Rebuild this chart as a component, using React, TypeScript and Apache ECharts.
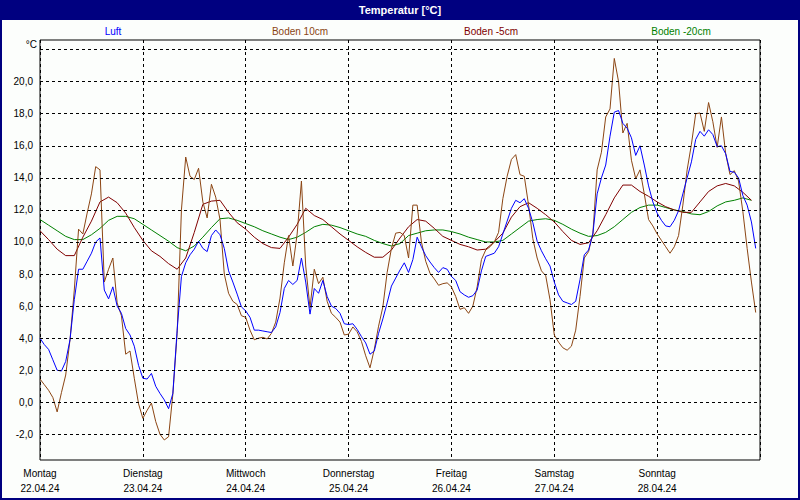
import React, { useEffect, useRef } from "react";
import * as echarts from "echarts";

// ---- data ----
const dayNames = ["Montag", "Dienstag", "Mittwoch", "Donnerstag", "Freitag", "Samstag", "Sonntag"];
const dayDates = ["22.04.24", "23.04.24", "24.04.24", "25.04.24", "26.04.24", "27.04.24", "28.04.24"];
const yGridValues = [-2, 0, 2, 4, 6, 8, 10, 12, 14, 16, 18, 20, 22];
const yLabelValues = [-2, 0, 2, 4, 6, 8, 10, 12, 14, 16, 18, 20];
const seriesNames = ["Luft", "Boden 10cm", "Boden -5cm", "Boden -20cm"];
const seriesColors = ["#0000ff", "#8b4513", "#800000", "#008000"];

// Luft, hourly from Monday 00:00
const luft = [
  4.0, 3.6, 3.3, 2.65, 2.0, 1.95, 2.55, 3.9, 6.4, 8.3,
  8.3, 8.8, 9.3, 10.0, 10.25, 7.0, 6.45, 7.2, 6.0, 5.55,
  4.6, 4.2, 3.5, 2.3, 1.5, 1.45, 1.8, 1.0, 0.55, 0.15,
  -0.4, 0.55, 4.5, 7.85, 8.7, 9.2, 9.55, 10.05, 9.6, 9.4,
  10.4, 10.75, 10.45, 9.6, 8.2, 7.5, 6.75, 5.95, 5.7, 5.3,
  4.5, 4.5, 4.45, 4.4, 4.35, 4.7, 5.6, 7.1, 7.6, 7.35,
  7.6, 9.0, 7.5, 5.5, 7.1, 6.8, 7.6, 6.6, 6.0, 5.85,
  5.55, 4.9, 4.85, 4.9, 4.55, 4.1, 3.7, 3.0, 3.2, 4.3,
  5.2, 6.2, 7.25, 7.75, 8.25, 8.7, 8.1, 8.9, 10.3, 9.7,
  9.15, 8.75, 8.4, 8.1, 8.4, 8.3, 7.85, 7.6, 6.9, 6.7,
  6.55, 6.65, 7.0, 8.2, 9.1, 9.2, 9.3, 9.7, 10.5, 11.3,
  12.1, 12.6, 12.45, 12.7, 12.1, 11.2, 10.05, 9.45, 8.95, 8.5,
  7.5, 6.7, 6.3, 6.2, 6.1, 6.3, 7.65, 9.2, 9.5, 10.5,
  13.0, 14.0, 14.8, 16.6, 18.1, 18.2, 17.4, 17.1, 16.5, 15.4,
  16.0, 14.8, 13.5, 12.5, 11.8, 11.35, 11.0, 10.95, 11.35, 11.95,
  13.0, 14.0, 15.0, 16.4, 16.9, 16.6, 17.0, 16.7, 15.95, 16.0,
  15.5, 14.4, 14.35, 14.0, 12.9, 12.3, 11.25, 9.6,
];

// Boden 10cm, hourly
const boden10 = [
  1.45, 1.1, 0.75, 0.3, -0.6, 0.6, 1.7, 3.9, 7.0, 10.8,
  10.5, 11.8, 13.0, 14.7, 14.5, 7.5, 8.3, 9.0, 6.2, 5.4,
  3.0, 3.2, 1.5, -0.1, -1.0, -0.5, -0.05, -1.2, -2.0, -2.35,
  -2.15, 0.5, 4.3, 12.0, 15.3, 14.1, 13.9, 14.6, 12.5, 11.5,
  13.6, 12.8, 11.4, 8.0, 6.8, 6.3, 6.1, 5.4, 5.3, 4.5,
  3.9, 4.0, 4.05, 3.95, 4.3, 5.0, 6.5, 8.7, 10.4, 8.5,
  10.5, 13.8, 8.5, 5.9, 8.3, 7.4, 7.8, 6.3, 5.55, 5.3,
  5.0, 4.2, 4.25, 4.7, 4.4, 3.8, 2.9, 2.15, 3.3, 4.75,
  5.95, 8.1, 9.6, 10.55, 10.6, 10.4, 9.0, 12.3, 12.3, 10.0,
  8.8, 8.05, 7.7, 7.3, 7.4, 7.45, 7.2, 6.6, 5.8, 5.9,
  5.55, 6.0, 7.2, 8.9, 9.5, 9.7, 10.0, 10.6, 12.7, 14.1,
  15.15, 15.45, 14.2, 14.1, 12.3, 10.2, 9.0, 8.2, 7.9, 6.4,
  4.2, 3.75, 3.4, 3.25, 3.5, 4.5, 6.6, 9.0, 9.4, 10.5,
  14.5, 15.6, 17.8, 18.3, 21.45, 20.0, 16.8, 17.4, 15.1, 13.95,
  14.5, 13.0, 11.4, 11.0, 10.5, 10.1, 9.7, 9.3, 9.7, 10.4,
  12.3, 14.5, 16.1, 18.0, 18.05, 16.9, 18.7, 17.5, 15.9, 17.8,
  15.5, 14.2, 14.45, 13.8, 11.9, 9.6, 7.5, 5.6,
];

// Boden -5cm, every 2 hours
const boden5 = [
  10.7, 10.15, 9.55, 9.15, 9.15, 10.3, 11.3, 12.5, 12.8, 12.45,
  11.8, 10.9, 10.1, 9.45, 9.1, 8.65, 8.3, 9.0, 10.6, 12.35,
  12.55, 12.6, 11.85, 11.2, 10.8, 10.3, 9.9, 9.65, 9.6, 10.3,
  11.1, 12.1, 11.65, 11.4, 10.95, 10.5, 10.1, 9.7, 9.35, 9.05,
  9.05, 9.5, 10.25, 10.95, 11.4, 11.3, 10.85, 10.35, 10.1, 9.85,
  9.7, 9.5, 9.55, 10.0, 10.55, 11.55, 12.2, 12.45, 12.1, 11.7,
  11.25, 10.65, 10.1, 9.85, 9.95, 10.7, 11.7, 12.75, 13.55, 13.55,
  13.15, 12.85, 12.5, 12.2, 12.0, 11.85, 11.85, 12.5, 13.15, 13.5,
  13.65, 13.5, 13.1, 12.6,
];

// Boden -20cm, every 2 hours
const boden20 = [
  11.4, 11.05, 10.7, 10.35, 10.15, 10.15, 10.45, 10.85, 11.35, 11.6,
  11.6, 11.45, 11.1, 10.75, 10.4, 10.05, 9.65, 9.45, 9.75, 10.3,
  10.9, 11.45, 11.5, 11.35, 11.15, 10.95, 10.7, 10.5, 10.3, 10.15,
  10.3, 10.6, 10.95, 11.1, 11.05, 10.9, 10.7, 10.5, 10.35, 10.1,
  9.9, 9.75, 9.9, 10.4, 10.55, 10.7, 10.75, 10.75, 10.65, 10.5,
  10.3, 10.15, 10.0, 10.0, 10.1, 10.5, 10.9, 11.3, 11.4, 11.45,
  11.35, 11.1, 10.8, 10.55, 10.35, 10.4, 10.6, 10.95, 11.4, 11.85,
  12.15, 12.3, 12.3, 12.15, 12.0, 11.9, 11.75, 11.7, 11.9, 12.25,
  12.5, 12.6, 12.75, 12.6,
];

const FONT = '"Liberation Sans", Arial, sans-serif';

function toPairs(values: number[], stepHours: number) {
  return values.map((v, i) => [i * stepHours, v]);
}

export default function App() {
  const ref = useRef<HTMLDivElement>(null);

  useEffect(() => {
    if (!ref.current) return;
    const chart = echarts.init(ref.current, undefined, { renderer: "svg" });

    const lineSeries = (name: string, color: string, data: number[][]) => ({
      type: "line",
      name,
      data,
      showSymbol: false,
      symbol: "none",
      z: 3,
      lineStyle: { color, width: 1 },
      itemStyle: { color },
      emphasis: { disabled: true },
    });

    const legendCenters = [113, 300, 491, 681];

    chart.setOption({
      animation: false,
      backgroundColor: "#fcfefc",
      grid: {
        left: 40,
        top: 40,
        width: 720,
        height: 420,
        show: true,
        borderColor: "#000",
        borderWidth: 1,
        backgroundColor: "transparent",
      },
      xAxis: {
        type: "value",
        min: 0,
        max: 168,
        interval: 24,
        axisLine: { show: false },
        axisTick: { show: false },
        splitLine: {
          show: true,
          lineStyle: { color: "#000", type: [3, 3], width: 1 },
        },
        axisLabel: {
          show: true,
          showMinLabel: true,
          showMaxLabel: false,
          margin: 6,
          color: "#000",
          fontFamily: FONT,
          fontSize: 10,
          lineHeight: 15,
          formatter: (v: number) => {
            const idx = Math.round(v / 24);
            if (idx < 0 || idx >= dayNames.length) return "";
            return dayNames[idx] + "\n" + dayDates[idx];
          },
        },
      },
      yAxis: {
        type: "value",
        min: -3.6,
        max: 22.6,
        axisLine: { show: false },
        axisTick: { show: false },
        axisLabel: { show: false },
        splitLine: { show: false },
      },
      series: [
        {
          type: "line",
          name: "grid",
          data: [],
          z: 1,
          silent: true,
          markLine: {
            silent: true,
            symbol: ["none", "none"],
            animation: false,
            lineStyle: { color: "#000", type: [3, 3], width: 1 },
            label: {
              show: true,
              position: "start",
              distance: 7,
              color: "#000",
              fontFamily: FONT,
              fontSize: 10,
              formatter: (p: any) => {
                const v = p.value as number;
                return yLabelValues.indexOf(v) >= 0 ? v.toFixed(1).replace(".", ",") : "";
              },
            },
            emphasis: { disabled: true },
            data: yGridValues.map((v) => ({ yAxis: v })),
          },
        },
        lineSeries(seriesNames[3], seriesColors[3], toPairs(boden20, 2)),
        lineSeries(seriesNames[2], seriesColors[2], toPairs(boden5, 2)),
        lineSeries(seriesNames[1], seriesColors[1], toPairs(boden10, 1)),
        lineSeries(seriesNames[0], seriesColors[0], toPairs(luft, 1)),
      ],
      graphic: [
        {
          type: "rect",
          z: 10,
          shape: { x: 0, y: 0, width: 800, height: 20 },
          style: { fill: "#000080" },
          silent: true,
        },
        {
          type: "text",
          z: 11,
          x: 400,
          y: 10,
          style: {
            text: "Temperatur [°C]",
            fill: "#ffffff",
            font: `bold 11px ${FONT}`,
            textAlign: "center",
            textVerticalAlign: "middle",
            align: "center",
            verticalAlign: "middle",
          },
          silent: true,
        },
        {
          type: "rect",
          z: 10,
          shape: { x: 1, y: 1, width: 798, height: 498 },
          style: { fill: "none", stroke: "#000080", lineWidth: 2 },
          silent: true,
        },
        {
          type: "text",
          z: 11,
          x: 37,
          y: 44,
          style: {
            text: "°C",
            fill: "#000",
            font: `10px ${FONT}`,
            textAlign: "right",
            textVerticalAlign: "middle",
            align: "right",
            verticalAlign: "middle",
          },
          silent: true,
        },
        ...seriesNames.map((name, i) => ({
          type: "text",
          z: 11,
          x: legendCenters[i],
          y: 31,
          style: {
            text: name,
            fill: seriesColors[i],
            font: `10px ${FONT}`,
            textAlign: "center",
            textVerticalAlign: "middle",
            align: "center",
            verticalAlign: "middle",
          },
          silent: true,
        })),
      ],
    });

    return () => chart.dispose();
  }, []);

  return (
    <div
      ref={ref}
      style={{ position: "fixed", left: 0, top: 0, width: 800, height: 500 }}
    />
  );
}
